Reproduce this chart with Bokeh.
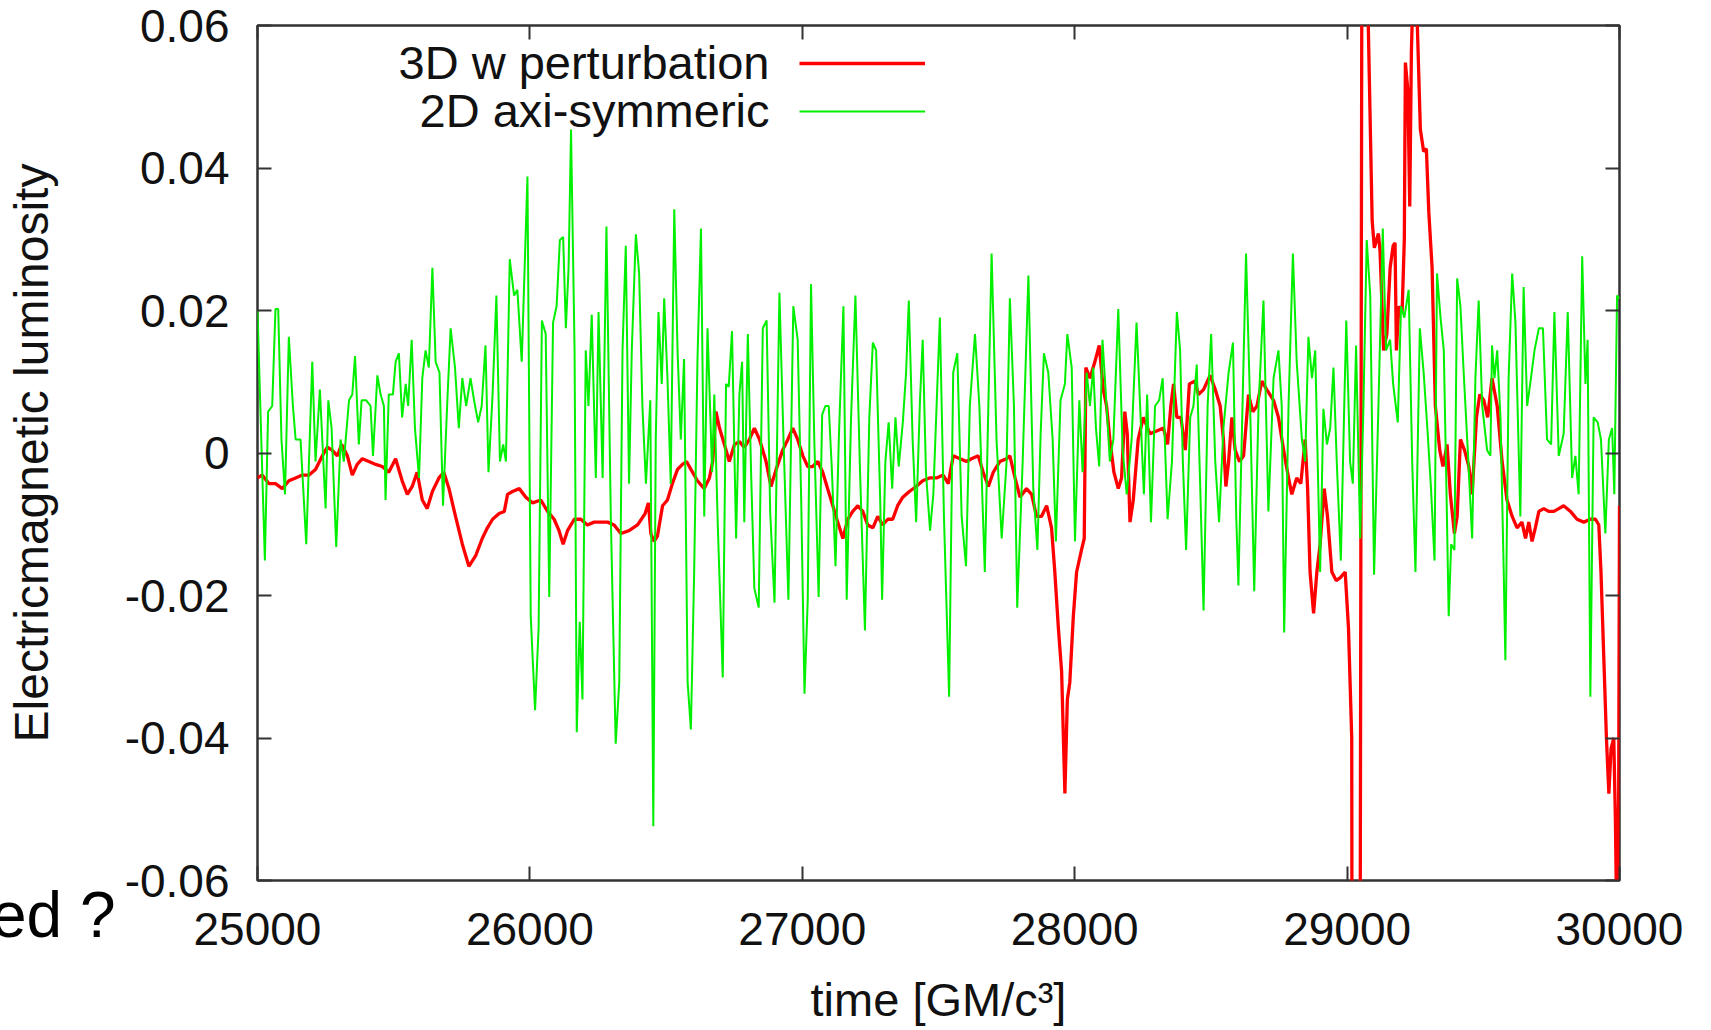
from bokeh.plotting import figure
from bokeh.models import (ColumnDataSource, Range1d, LinearAxis, FixedTicker,
                          Legend, LegendItem, Label)
from bokeh.core.properties import value
from bokeh.embed import file_html
from bokeh.resources import INLINE

# ---------------- data ----------------
t_3d = [25000, 25017, 25042, 25066, 25091, 25115, 25140, 25164, 25189, 25213, 25238, 25256,
        25274, 25293, 25309, 25330, 25348, 25366, 25385, 25409, 25434, 25458, 25482, 25507,
        25531, 25550, 25568, 25586, 25605, 25623, 25642, 25666, 25684, 25703, 25727, 25752,
        25776, 25801, 25825,
        25844, 25863, 25887, 25906, 25918, 25936, 25961, 25985, 26010, 26040, 26065, 26089,
        26107, 26122, 26138, 26163, 26187, 26211, 26236, 26260, 26285, 26309, 26334, 26364,
        26395, 26423, 26435, 26444, 26456, 26468, 26487, 26505, 26523, 26542, 26560, 26575,
        26591, 26615, 26640,
        26659, 26671, 26683, 26696, 26714, 26732, 26751, 26769, 26787, 26806, 26824, 26843,
        26867, 26885, 26904, 26928, 26947, 26965, 26983, 27002, 27020, 27038, 27057, 27075,
        27093, 27112, 27130, 27149, 27167, 27185, 27204, 27222, 27240, 27259, 27277, 27295,
        27314, 27332, 27350, 27369, 27393, 27418, 27442, 27467,
        27493, 27517, 27536, 27554, 27579, 27603, 27621, 27646, 27664, 27683, 27701, 27725,
        27750, 27762, 27781, 27799, 27823, 27842, 27860, 27878, 27897, 27915, 27927, 27940,
        27952, 27964, 27973, 27982, 27995, 28007, 28025, 28035, 28041, 28056, 28074, 28090,
        28105, 28117, 28129, 28144, 28160, 28172, 28184, 28193, 28203, 28215, 28233, 28252,
        28276, 28301,
        28326, 28341, 28353, 28363, 28375, 28390, 28406, 28421, 28442, 28454, 28473, 28497,
        28516, 28534, 28546, 28555, 28565, 28577, 28589, 28605, 28620, 28638, 28654, 28669,
        28687, 28705, 28730, 28748, 28767, 28785, 28797, 28815, 28830, 28846, 28855, 28864,
        28877, 28889, 28901, 28916, 28928, 28944, 28960, 28975, 28993, 29005, 29017, 29024,
        29040, 29060, 29070, 29092, 29100, 29115, 29121, 29134, 29146, 29158,
        29169, 29176, 29181, 29190, 29202, 29210, 29214, 29223, 29230, 29236, 29242, 29254,
        29269, 29281, 29291, 29300, 29312, 29324, 29340, 29352, 29367, 29379, 29394, 29404,
        29416, 29431, 29447, 29459, 29475, 29487, 29502, 29516, 29532, 29551, 29569, 29587,
        29606, 29624, 29642, 29655, 29667, 29679, 29691, 29704, 29722, 29740, 29759, 29777,
        29795, 29820, 29844, 29869, 29893, 29912, 29924, 29932, 29942, 29952, 29961, 29969,
        29979, 29985, 29991, 29997, 30000]
lum_3d = [-0.0035, -0.0031, -0.0043, -0.0043, -0.0050, -0.0039, -0.0035, -0.0031, -0.0031, -0.0023, -0.0004, 0.0008,
          0.0004, -0.0004, 0.0012, -0.0004, -0.0031, -0.0016, -0.0008, -0.0012, -0.0016, -0.0019, -0.0027, -0.0008,
          -0.0039, -0.0058, -0.0047, -0.0027, -0.0066, -0.0078, -0.0054, -0.0035, -0.0027, -0.0050, -0.0089, -0.0128,
          -0.0159, -0.0144, -0.0120,
          -0.0105, -0.0093, -0.0085, -0.0082, -0.0058, -0.0054, -0.0050, -0.0062, -0.0070, -0.0066, -0.0082, -0.0093,
          -0.0109, -0.0128, -0.0109, -0.0093, -0.0093, -0.0101, -0.0097, -0.0097, -0.0097, -0.0101, -0.0113, -0.0109,
          -0.0101, -0.0085, -0.0070, -0.0113, -0.0124, -0.0117, -0.0074, -0.0066, -0.0043, -0.0023, -0.0016, -0.0012,
          -0.0023, -0.0039, -0.0050,
          -0.0035, -0.0012, 0.0058, 0.0035, 0.0012, -0.0012, 0.0012, 0.0016, 0.0008, 0.0019, 0.0035, 0.0019,
          -0.0012, -0.0047, -0.0023, 0.0004, 0.0019, 0.0035, 0.0019, -0.0004, -0.0019, -0.0019, -0.0012, -0.0027,
          -0.0050, -0.0074, -0.0097, -0.0120, -0.0093, -0.0082, -0.0074, -0.0082, -0.0101, -0.0105, -0.0089, -0.0101,
          -0.0093, -0.0093, -0.0074, -0.0062, -0.0054, -0.0047, -0.0039, -0.0035,
          -0.0035, -0.0031, -0.0043, -0.0004, -0.0008, -0.0012, -0.0008, -0.0004, -0.0027, -0.0047, -0.0027, -0.0012,
          -0.0008, -0.0004, -0.0035, -0.0062, -0.0050, -0.0058, -0.0089, -0.0089, -0.0074, -0.0105, -0.0167, -0.0245,
          -0.0307, -0.0478, -0.0346, -0.0322, -0.0229, -0.0167, -0.0136, -0.0120, 0.0120, 0.0105, 0.0128, 0.0151,
          0.0089, 0.0066, 0.0019, -0.0027, -0.0050, -0.0035, 0.0058, 0.0027, -0.0097, -0.0066, 0.0019, 0.0050,
          0.0027, 0.0031,
          0.0035, 0.0012, 0.0066, 0.0097, 0.0050, 0.0050, 0.0004, 0.0097, 0.0101, 0.0082, 0.0089, 0.0109,
          0.0089, 0.0066, 0.0019, -0.0047, -0.0012, 0.0050, 0.0004, -0.0012, -0.0004, 0.0082, 0.0058, 0.0066,
          0.0101, 0.0089, 0.0074, 0.0050, 0.0004, -0.0035, -0.0058, -0.0035, -0.0043, 0.0019, -0.0050, -0.0167,
          -0.0225, -0.0167, -0.0128, -0.0050, -0.0089, -0.0167, -0.0179, -0.0175, -0.0167, -0.0245, -0.0400, -0.2500,
          -0.2500, 0.2000, 0.0750, 0.0326, 0.0288, 0.0308, 0.0283, 0.0144, 0.0167, 0.0260,
          0.0291, 0.0295, 0.0144, 0.0206, 0.0198, 0.0299, 0.0548, 0.0509, 0.0346, 0.0563, 0.0650, 0.0650,
          0.0454, 0.0423, 0.0427, 0.0338, 0.0260, 0.0066, 0.0004, -0.0019, 0.0012, -0.0058, -0.0113, -0.0089,
          0.0019, 0.0004, -0.0019, -0.0058, 0.0050, 0.0082, 0.0074, 0.0050, 0.0105, 0.0066, -0.0012, -0.0066,
          -0.0089, -0.0105, -0.0097, -0.0120, -0.0097, -0.0124, -0.0105, -0.0082, -0.0078, -0.0082, -0.0082, -0.0078,
          -0.0074, -0.0082, -0.0093, -0.0097, -0.0093, -0.0093, -0.0101, -0.0167, -0.0283, -0.0400, -0.0478, -0.0415,
          -0.0400, -0.0516, -0.0700, -0.0478, -0.0074]

t_2d = [25000, 25027, 25039, 25054, 25066, 25076, 25088, 25101, 25115, 25130, 25140, 25158,
        25179, 25201, 25213, 25229, 25250, 25260, 25272, 25289, 25305, 25317, 25336, 25348,
        25358, 25372, 25382, 25399, 25415, 25424, 25440, 25452, 25464, 25470, 25482, 25497,
        25507, 25519, 25531, 25544, 25553, 25566, 25578, 25593, 25605, 25617, 25629, 25642,
        25654, 25668, 25681, 25697, 25709, 25725, 25739, 25752, 25766, 25782, 25795, 25810,
        25823, 25837,
        25848, 25863, 25877, 25890, 25902, 25912, 25926, 25942, 25954, 25970, 25991, 26003,
        26019, 26032, 26044, 26058, 26071, 26085, 26098, 26110, 26122, 26132, 26142, 26151,
        26164, 26172, 26183, 26193, 26205, 26215, 26227, 26242, 26252, 26267, 26281, 26297,
        26315, 26328, 26340, 26352, 26364, 26374, 26389, 26401, 26413, 26426, 26442, 26453,
        26462, 26472, 26484, 26493, 26505, 26517, 26530, 26542, 26554, 26566, 26579, 26591,
        26603, 26615, 26628, 26640, 26652,
        26669, 26677, 26690, 26708, 26720, 26730, 26742, 26757, 26769, 26779, 26787, 26800,
        26812, 26824, 26840, 26855, 26869, 26882, 26898, 26916, 26931, 26949, 26967, 26983,
        26996, 27008, 27020, 27032, 27044, 27060, 27073, 27085, 27097, 27109, 27122, 27134,
        27151, 27163, 27179, 27195, 27212, 27230, 27246, 27259, 27271, 27286, 27293, 27305,
        27317, 27330, 27342, 27354, 27369, 27381, 27391, 27405, 27418, 27432, 27442, 27454,
        27469, 27481,
        27505, 27520, 27539, 27554, 27569, 27585, 27601, 27615, 27634, 27650, 27670, 27683,
        27695, 27713, 27732, 27750, 27762, 27777, 27789, 27809, 27830, 27848, 27863, 27875,
        27887, 27903, 27919, 27931, 27948, 27964, 27973, 27989, 28001, 28017, 28029, 28044,
        28056, 28068, 28078, 28090, 28102, 28117, 28129, 28142, 28160, 28176, 28191, 28209,
        28227, 28242, 28254, 28266, 28280, 28295, 28310, 28323,
        28341, 28357, 28375, 28387, 28397, 28409, 28424, 28436, 28448, 28461, 28473, 28488,
        28501, 28516, 28530, 28546, 28565, 28581, 28593, 28601, 28616, 28629, 28644, 28659,
        28675, 28693, 28711, 28730, 28748, 28760, 28769, 28785, 28801, 28815, 28834, 28846,
        28858, 28871, 28883, 28901, 28913, 28926, 28938, 28950, 28962, 28977, 28989, 28997,
        29011, 29021, 29033, 29048, 29060, 29072, 29085, 29099, 29115, 29131, 29143, 29158,
        29169, 29186, 29198, 29210, 29226, 29239, 29251, 29267, 29281, 29296, 29308, 29321,
        29330, 29343, 29355, 29365, 29373, 29382, 29394, 29404, 29416, 29428, 29443, 29459,
        29471, 29483, 29496, 29514, 29526, 29532, 29541, 29551, 29563, 29575, 29581, 29593,
        29606, 29618, 29636, 29648, 29661, 29675, 29688, 29704, 29719, 29734, 29749, 29761,
        29777, 29795, 29810, 29826, 29838, 29850, 29863, 29875, 29883, 29893, 29905, 29920,
        29932, 29948, 29961, 29973, 29981, 29991, 30000]
lum_2d = [0.0200, -0.0151, 0.0058, 0.0066, 0.0202, 0.0202, 0.0019, -0.0058, 0.0163, 0.0066, 0.0019, 0.0019,
          -0.0128, 0.0128, -0.0012, 0.0089, -0.0078, 0.0074, 0.0035, -0.0132, 0.0019, -0.0012, 0.0074, 0.0082,
          0.0136, 0.0012, 0.0074, 0.0074, 0.0066, -0.0004, 0.0109, 0.0082, 0.0066, -0.0066, 0.0082, 0.0082,
          0.0128, 0.0140, 0.0050, 0.0097, 0.0066, 0.0159, 0.0035, -0.0035, 0.0105, 0.0144, 0.0120, 0.0260,
          0.0128, 0.0113, -0.0074, 0.0074, 0.0175, 0.0120, 0.0035, 0.0105, 0.0066, 0.0105, 0.0074, 0.0043,
          0.0066, 0.0151,
          -0.0027, 0.0082, 0.0221, -0.0012, 0.0012, -0.0012, 0.0272, 0.0221, 0.0229, 0.0128, 0.0388, -0.0229,
          -0.0361, -0.0245, 0.0186, 0.0167, -0.0202, 0.0183, 0.0206, 0.0299, 0.0303, 0.0175, 0.0260, 0.0454,
          0.0144, -0.0392, -0.0237, -0.0346, 0.0144, 0.0066, 0.0194, -0.0035, 0.0198, -0.0035, 0.0318, -0.0089,
          -0.0408, -0.0322, 0.0144, 0.0291, -0.0043, 0.0144, 0.0307, 0.0252, 0.0066, -0.0043, 0.0074, -0.0524,
          0.0019, 0.0198, 0.0097, 0.0217, 0.0105, -0.0043, 0.0342, 0.0144, 0.0019, 0.0132, -0.0322, -0.0388,
          -0.0167, 0.0128, 0.0315, -0.0089, 0.0175,
          -0.0027, 0.0082, -0.0105, -0.0315, 0.0097, 0.0093, 0.0171, -0.0120, 0.0082, 0.0128, -0.0097, 0.0167,
          -0.0027, -0.0190, -0.0217, 0.0175, 0.0186, -0.0082, -0.0210, 0.0225, 0.0019, -0.0206, 0.0206, 0.0159,
          -0.0066, -0.0338, -0.0206, 0.0237, 0.0019, -0.0202, 0.0054, 0.0066, 0.0066, -0.0027, -0.0159, 0.0019,
          0.0206, -0.0206, 0.0050, 0.0221, -0.0027, -0.0249, 0.0050, 0.0155, 0.0144, -0.0066, -0.0206, -0.0012,
          0.0043, -0.0050, 0.0050, -0.0019, 0.0043, 0.0113, 0.0214, 0.0019, -0.0097, 0.0074, 0.0159, -0.0027,
          -0.0109, -0.0058,
          0.0190, -0.0089, -0.0342, 0.0113, 0.0140, -0.0089, -0.0159, 0.0066, 0.0167, 0.0066, -0.0167, 0.0066,
          0.0280, 0.0019, -0.0120, -0.0012, 0.0217, 0.0066, -0.0217, -0.0012, 0.0249, -0.0050, -0.0136, 0.0027,
          0.0140, 0.0113, 0.0019, -0.0124, 0.0074, 0.0097, 0.0167, 0.0120, -0.0124, 0.0074, -0.0027, 0.0113,
          0.0066, 0.0120, 0.0035, -0.0019, 0.0159, 0.0066, -0.0012, 0.0019, 0.0202, 0.0004, -0.0058, 0.0019,
          0.0183, 0.0050, -0.0058, 0.0082, -0.0097, 0.0066, 0.0074, 0.0105,
          -0.0093, -0.0012, 0.0198, 0.0144, -0.0012, -0.0136, 0.0050, 0.0066, 0.0124, -0.0050, -0.0221, 0.0066,
          0.0167, -0.0012, -0.0097, 0.0035, 0.0113, 0.0155, -0.0089, -0.0186, 0.0066, 0.0280, 0.0066, -0.0194,
          0.0066, 0.0214, -0.0082, 0.0105, 0.0144, 0.0066, -0.0252, 0.0066, 0.0280, 0.0128, 0.0019, -0.0012,
          0.0163, 0.0105, 0.0144, -0.0167, 0.0062, 0.0012, 0.0035, 0.0120, -0.0012, -0.0151, 0.0058, 0.0186,
          -0.0012, -0.0043, 0.0151, -0.0120, 0.0066, 0.0299, 0.0221, -0.0171, 0.0066, 0.0315, 0.0144, 0.0159,
          0.0097, 0.0043, 0.0206, 0.0190, 0.0229, -0.0012, -0.0167, 0.0175, 0.0113, 0.0027, -0.0050, -0.0151,
          0.0252, 0.0190, 0.0144, -0.0058, -0.0229, -0.0128, -0.0136, 0.0245, 0.0206, 0.0113, 0.0004, -0.0120,
          0.0105, 0.0214, 0.0066, 0.0004, -0.0004, 0.0151, 0.0105, 0.0144, 0.0050, -0.0167, -0.0291, 0.0105,
          0.0252, 0.0183, -0.0089, 0.0233, 0.0066, 0.0105, 0.0144, 0.0175, 0.0175, 0.0019, 0.0012, 0.0198,
          -0.0004, 0.0027, 0.0198, -0.0035, -0.0004, -0.0058, 0.0276, 0.0097, 0.0159, -0.0342, 0.0050, 0.0043,
          0.0019, -0.0113, 0.0019, 0.0035, -0.0058, 0.0221, 0.0217]

series_names = ["3D w perturbation", "2D axi-symmeric"]
series_colors = ["#ff0000", "#00f000"]

x_ticks = [25000, 26000, 27000, 28000, 29000, 30000]
x_tick_labels = ["25000", "26000", "27000", "28000", "29000", "30000"]
y_ticks = [-0.06, -0.04, -0.02, 0, 0.02, 0.04, 0.06]
y_tick_labels = ["-0.06", "-0.04", "-0.02", "0", "0.02", "0.04", "0.06"]

x_label = "time [GM/c³]"
y_label = "Electricmagnetic luminosity"
# leftover slide text, cut at the page's left edge (anchored below-left of the frame)
stray_text = ["ed ?"]
stray_x = [24479]
stray_y = [-0.0648]

FONT = "Liberation Sans"
FRAME = "#333333"

# ---------------- figure ----------------
p = figure(width=1711, height=1030, output_backend="svg", toolbar_location=None,
           x_range=Range1d(25000, 30000), y_range=Range1d(-0.06, 0.06),
           min_border_left=257, min_border_right=92, min_border_top=25, min_border_bottom=150)
p.background_fill_color = "white"
p.border_fill_color = "white"
p.outline_line_color = FRAME
p.outline_line_width = 2.5
p.grid.visible = False

src3 = ColumnDataSource(dict(t=t_3d, v=lum_3d))
src2 = ColumnDataSource(dict(t=t_2d, v=lum_2d))
r3 = p.line("t", "v", source=src3, line_color=series_colors[0], line_width=3.3)
r2 = p.line("t", "v", source=src2, line_color=series_colors[1], line_width=2)

def style_axis(ax, ticks, labels, show):
    ax.ticker = FixedTicker(ticks=ticks)
    ax.major_label_overrides = {k: (l if show else "") for k, l in zip(ticks, labels)}
    ax.axis_line_color = None
    ax.major_tick_in = 14
    ax.major_tick_out = 0
    ax.major_tick_line_color = FRAME
    ax.major_tick_line_width = 2
    ax.minor_tick_line_color = None
    ax.major_label_text_font = FONT
    ax.major_label_text_font_size = "46px" if show else "1px"
    ax.major_label_text_color = "#111111"
    ax.axis_label_text_font = FONT
    ax.axis_label_text_font_style = "normal"
    ax.axis_label_text_color = "#111111"
    ax.axis_label_text_font_size = "48px"

xb = p.xaxis[0]
yl = p.yaxis[0]
style_axis(xb, x_ticks, x_tick_labels, True)
style_axis(yl, y_ticks, y_tick_labels, True)
xb.major_label_standoff = 32
xb.axis_label = x_label
xb.axis_label_standoff = 25
xb.axis_label_text_font_size = "47px"
yl.major_label_standoff = 28
yl.axis_label = y_label
yl.axis_label_standoff = 64

xt = LinearAxis()
style_axis(xt, x_ticks, x_tick_labels, False)
xt.major_label_standoff = 0
p.add_layout(xt, "above")
yr = LinearAxis()
style_axis(yr, y_ticks, y_tick_labels, False)
yr.major_label_standoff = 0
p.add_layout(yr, "right")

# legend: gnuplot style (text at left, line sample at right)
legend = Legend(items=[LegendItem(label=value(""), renderers=[r3]),
                       LegendItem(label=value(""), renderers=[r2])],
                location=(542, 745), orientation="vertical",
                glyph_width=126, glyph_height=48, spacing=0, padding=0, margin=0,
                label_width=0, label_height=48, label_standoff=0,
                label_text_font_size="1px",
                border_line_color=None, background_fill_alpha=0)
p.add_layout(legend)
for name, yb in zip(series_names, [818, 770]):
    p.add_layout(Label(x=512, y=yb, x_units="screen", y_units="screen", text=name,
                       text_align="right", text_baseline="alphabetic",
                       text_font=FONT, text_font_size="47px", text_color="#111111"))

# stray slide text: drawn at overlay level so that it is not clipped to the frame
p.text(x=stray_x, y=stray_y, text=stray_text, text_align="right", text_baseline="alphabetic",
       text_font=value(FONT), text_font_size=value("64px"), text_color="#000000",
       level="overlay")

open("out.html", "w").write(file_html(p, INLINE))
